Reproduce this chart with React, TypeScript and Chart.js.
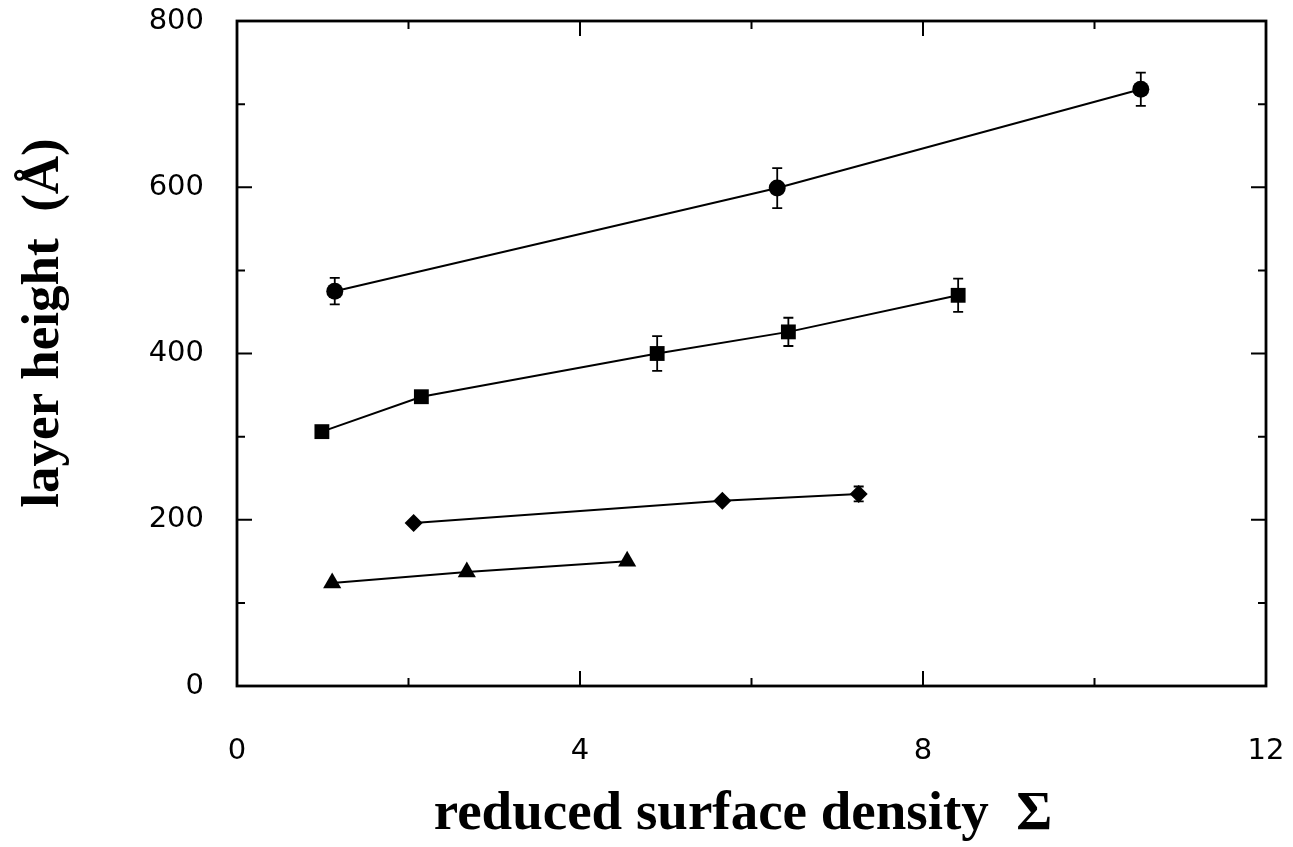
import { useEffect, useRef } from "react";
import { Chart, registerables } from "chart.js";
Chart.register(...registerables);

// ---- data ----
const circleX = [1.14, 6.3, 10.54];
const circleY = [475, 599, 718];
const circleErr = [16, 24, 20];

const squareX = [0.99, 2.15, 4.9, 6.43, 8.41];
const squareY = [306, 348, 400, 426, 470];
const squareErr = [0, 0, 21, 17, 20];

const diamondX = [2.06, 5.66, 7.25];
const diamondY = [196, 223, 231];
const diamondErr = [0, 0, 9];

const triangleX = [1.11, 2.68, 4.55];
const triangleY = [124, 137, 150];
const triangleErr = [0, 0, 0];

const xTickLabels = ["0", "4", "8", "12"];
const yTickLabels = ["0", "200", "400", "600", "800"];
const xMinorTicks = [0, 2, 4, 6, 8, 10, 12];
const yMinorTicks = [0, 100, 200, 300, 400, 500, 600, 700, 800];

const xTitle = "reduced surface density  Σ";
const yTitle = "layer height  (Å)";

const toPoints = (xs: number[], ys: number[]) => xs.map((x, i) => ({ x, y: ys[i] }));

export default function App() {
  const ref = useRef<HTMLCanvasElement | null>(null);

  useEffect(() => {
    if (!ref.current) return;
    const errs = [circleErr, squareErr, diamondErr, triangleErr];

    const errorBars = {
      id: "errorBars",
      afterDatasetsDraw(chart: any) {
        const { ctx, scales } = chart;
        const ys = scales.y;
        ctx.save();
        ctx.strokeStyle = "#000";
        ctx.lineWidth = 1.8;
        chart.data.datasets.forEach((ds: any, di: number) => {
          const meta = chart.getDatasetMeta(di);
          ds.data.forEach((p: any, i: number) => {
            const e = errs[di][i];
            if (!e) return;
            const px = meta.data[i].x;
            const top = ys.getPixelForValue(p.y + e);
            const bot = ys.getPixelForValue(p.y - e);
            ctx.beginPath();
            ctx.moveTo(px, top);
            ctx.lineTo(px, bot);
            ctx.moveTo(px - 5, top);
            ctx.lineTo(px + 5, top);
            ctx.moveTo(px - 5, bot);
            ctx.lineTo(px + 5, bot);
            ctx.stroke();
          });
        });
        ctx.restore();
      },
    };

    const frame = {
      id: "frame",
      afterDraw(chart: any) {
        const { ctx, chartArea: a, scales } = chart;
        ctx.save();
        ctx.strokeStyle = "#000";
        ctx.lineWidth = 2.8;
        ctx.strokeRect(a.left, a.top, a.right - a.left, a.bottom - a.top);
        ctx.lineWidth = 2;
        ctx.beginPath();
        xMinorTicks.forEach((v) => {
          const px = scales.x.getPixelForValue(v);
          const len = v % 4 === 0 ? 15 : 8;
          ctx.moveTo(px, a.bottom);
          ctx.lineTo(px, a.bottom - len);
          ctx.moveTo(px, a.top);
          ctx.lineTo(px, a.top + len);
        });
        yMinorTicks.forEach((v) => {
          const py = scales.y.getPixelForValue(v);
          const len = v % 200 === 0 ? 15 : 8;
          ctx.moveTo(a.left, py);
          ctx.lineTo(a.left + len, py);
          ctx.moveTo(a.right, py);
          ctx.lineTo(a.right - len, py);
        });
        ctx.stroke();

        // axis titles
        ctx.fillStyle = "#000";
        ctx.textAlign = "center";
        ctx.textBaseline = "alphabetic";
        ctx.font = 'bold 55px "Liberation Serif", "DejaVu Serif", serif';
        ctx.fillText(xTitle, 743, 829);
        ctx.font = 'bold 53px "Liberation Serif", "DejaVu Serif", serif';
        ctx.translate(58, 323);
        ctx.rotate(-Math.PI / 2);
        ctx.fillText(yTitle, 0, 0);
        ctx.restore();
      },
    };

    const common = {
      showLine: true,
      borderColor: "#000",
      backgroundColor: "#000",
      borderWidth: 2,
      pointBorderWidth: 0,
    };

    const tickFont = { family: '"DejaVu Sans", sans-serif', size: 29 };

    const chart = new Chart(ref.current, {
      type: "scatter",
      data: {
        datasets: [
          { ...common, data: toPoints(circleX, circleY), pointStyle: "circle", pointRadius: 8.5 },
          { ...common, data: toPoints(squareX, squareY), pointStyle: "rect", pointRadius: 10.5 },
          { ...common, data: toPoints(diamondX, diamondY), pointStyle: "rectRot", pointRadius: 9 },
          { ...common, data: toPoints(triangleX, triangleY), pointStyle: "triangle", pointRadius: 10.5 },
        ],
      },
      options: {
        responsive: false,
        animation: false,
        layout: { padding: { top: 21, right: 27, left: 0, bottom: 0 } },
        plugins: { legend: { display: false }, tooltip: { enabled: false } },
        scales: {
          x: {
            type: "linear",
            min: 0,
            max: 12,
            grid: { display: false, drawTicks: false },
            border: { display: false },
            ticks: {
              stepSize: 4,
              padding: 48,
              color: "#000",
              maxRotation: 0,
              font: tickFont,
              callback: (v: any) => xTickLabels[xTickLabels.indexOf(String(v))] ?? "",
            },
            afterFit: (s: any) => {
              s.height = 847 - 686;
              s.paddingLeft = 0;
              s.paddingRight = 0;
            },
          },
          y: {
            type: "linear",
            min: 0,
            max: 800,
            grid: { display: false, drawTicks: false },
            border: { display: false },
            ticks: {
              stepSize: 200,
              padding: 33,
              color: "#000",
              font: tickFont,
              callback: (v: any) => yTickLabels[yTickLabels.indexOf(String(v))] ?? "",
            },
            afterFit: (s: any) => {
              s.width = 237;
              s.paddingTop = 0;
              s.paddingBottom = 0;
            },
          },
        },
      },
      plugins: [errorBars, frame],
    });
    return () => chart.destroy();
  }, []);

  return (
    <canvas
      ref={ref}
      width={1293}
      height={847}
      style={{ position: "fixed", left: 0, top: 0, display: "block", background: "#fff" }}
    />
  );
}
